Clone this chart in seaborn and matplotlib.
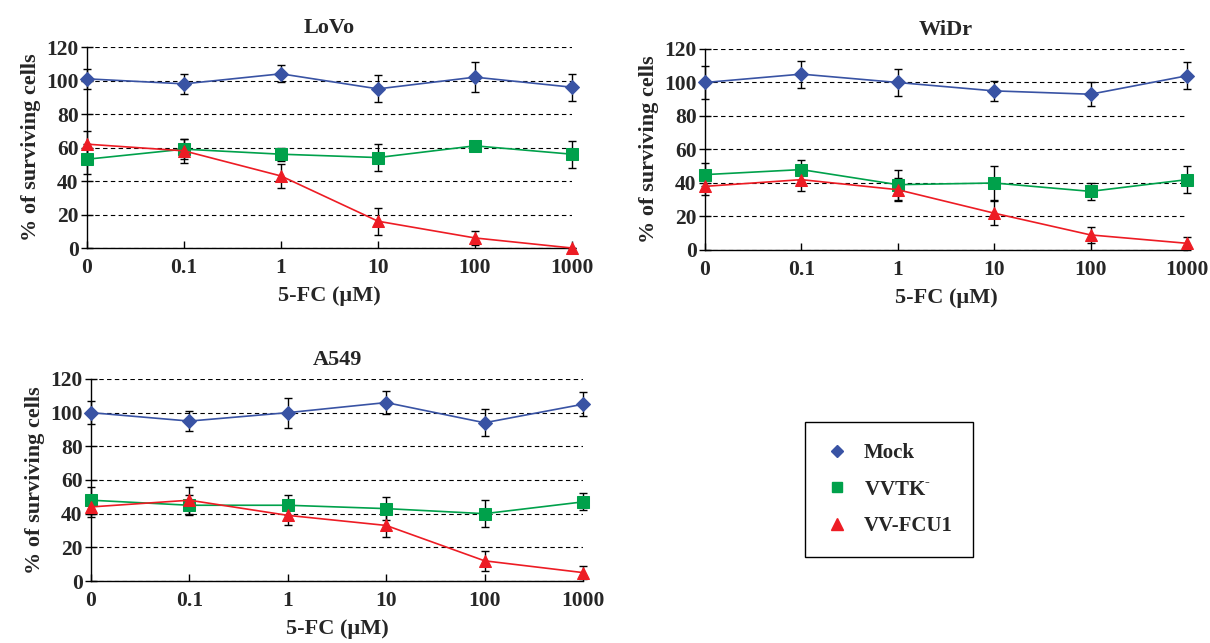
import numpy as np
import pandas as pd
import matplotlib.pyplot as plt
import seaborn as sns
from matplotlib.lines import Line2D

#========================== data ===================================
doses = ["0", "0.1", "1", "10", "100", "1000"]
series = ["Mock", "VVTK-", "VV-FCU1"]

lovo_mock = [101, 98, 104, 95, 102, 96]
lovo_mock_err = [6, 6, 5, 8, 9, 8]
lovo_vvtk = [53, 59, 56, 54, 61, 56]
lovo_vvtk_err = [9, 6, 4, 8, 1, 8]
lovo_fcu1 = [62, 58, 43, 16, 6, 0]
lovo_fcu1_err = [8, 7, 7, 8, 4, 0]

widr_mock = [100, 105, 100, 95, 93, 104]
widr_mock_err = [10, 8, 8, 6, 7, 8]
widr_vvtk = [45, 48, 39, 40, 35, 42]
widr_vvtk_err = [7, 6, 9, 10, 5, 8]
widr_fcu1 = [38, 42, 36, 22, 9, 4]
widr_fcu1_err = [5, 7, 7, 7, 5, 4]

a549_mock = [100, 95, 100, 106, 94, 105]
a549_mock_err = [7, 6, 9, 7, 8, 7]
a549_vvtk = [48, 45, 45, 43, 40, 47]
a549_vvtk_err = [8, 6, 6, 7, 8, 5]
a549_fcu1 = [44, 48, 39, 33, 12, 5]
a549_fcu1_err = [6, 8, 6, 7, 6, 4]

colors = {"Mock": "#3953a4", "VVTK-": "#00a14b", "VV-FCU1": "#ed1c24"}
markers = {"Mock": "D", "VVTK-": "s", "VV-FCU1": "^"}
msizes = {"Mock": 7, "VVTK-": 8, "VV-FCU1": 9}

sns.set_style("white")
plt.rcParams["font.family"] = ["Liberation Serif", "DejaVu Serif"]
plt.rcParams["font.weight"] = "bold"
plt.rcParams["mathtext.fontset"] = "custom"
plt.rcParams["mathtext.rm"] = "Liberation Serif:bold"
plt.rcParams["mathtext.bf"] = "Liberation Serif:bold"

fig = plt.figure(figsize=(12.1, 6.43), dpi=100)

panels = [
    ("LoVo", [0.0719, 0.6143, 0.4008, 0.3126],
     [(lovo_mock, lovo_mock_err), (lovo_vvtk, lovo_vvtk_err), (lovo_fcu1, lovo_fcu1_err)]),
    ("WiDr", [0.5826, 0.6112, 0.3983, 0.3126],
     [(widr_mock, widr_mock_err), (widr_vvtk, widr_vvtk_err), (widr_fcu1, widr_fcu1_err)]),
    ("A549", [0.0752, 0.0964, 0.4066, 0.3142],
     [(a549_mock, a549_mock_err), (a549_vvtk, a549_vvtk_err), (a549_fcu1, a549_fcu1_err)]),
]

FS = 16
pos = np.arange(len(doses))
for title, rect, data in panels:
    ax = fig.add_axes(rect)
    for name, (vals, err) in zip(series, data):
        ax.errorbar(pos, vals, yerr=err, fmt="none", ecolor="black",
                    elinewidth=1, capsize=3, capthick=1, zorder=3, clip_on=False)
        df = pd.DataFrame({"dose": pos, "pct": vals})
        sns.lineplot(data=df, x="dose", y="pct", ax=ax, color=colors[name],
                     marker=markers[name], markersize=msizes[name],
                     markeredgecolor=colors[name], linewidth=1.2,
                     zorder=4, clip_on=False)
    ax.set_xlim(0, 5)
    ax.set_ylim(0, 120)
    ax.set_yticks(range(0, 121, 20))
    ax.set_xticks(pos)
    ax.set_xticklabels(doses)
    ax.yaxis.grid(True, linestyle=(0, (4, 3)), color="black", linewidth=0.8)
    ax.set_axisbelow(True)
    for s in ["top", "right"]:
        ax.spines[s].set_visible(False)
    for s in ["left", "bottom"]:
        ax.spines[s].set_color("black")
        ax.spines[s].set_linewidth(1)
    ax.tick_params(axis="y", direction="inout", length=8, width=1,
                   labelsize=FS - 0.5, color="black", left=True, pad=2)
    ax.tick_params(axis="x", direction="in", length=5, width=1,
                   labelsize=FS - 0.5, color="black", bottom=True, pad=7)
    ax.set_title(title, fontsize=FS, fontweight="bold", pad=10)
    ax.set_xlabel("5-FC (µM)", fontsize=FS, fontweight="bold", labelpad=6)
    ax.set_ylabel("% of surviving cells", fontsize=FS, fontweight="bold", labelpad=4)

handles = [Line2D([], [], linestyle="none", marker=markers[n], color=colors[n],
                  markersize=msizes[n] - 1) for n in series]
labels = ["Mock", "VVTK$^{\\text{-}}$", "VV-FCU1"]
leg = fig.legend(handles, labels, loc="center", bbox_to_anchor=(0.7351, 0.2387),
                 frameon=True, fancybox=False, edgecolor="black", framealpha=1,
                 prop={"size": 15, "weight": "bold"}, borderpad=1.0,
                 labelspacing=0.8, handlelength=1.0, handletextpad=0.8)
leg.get_frame().set_linewidth(1)

fig.savefig("out.png", dpi=100)
